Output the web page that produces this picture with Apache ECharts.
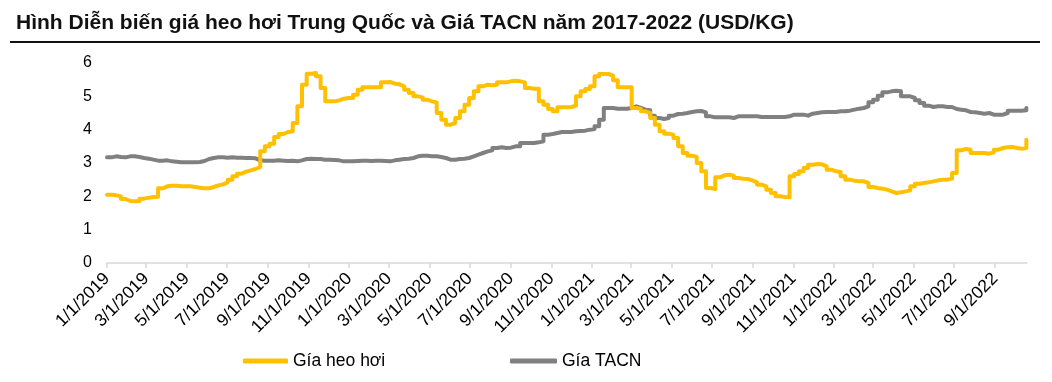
<!DOCTYPE html>
<html>
<head>
<meta charset="utf-8">
<script src="https://cdn.jsdelivr.net/npm/echarts@6/dist/echarts.min.js"></script>
<style>html,body{margin:0;padding:0;background:#fff}#c{width:1052px;height:382px}</style>
</head>
<body>
<div id="c"></div>
<script>
// Weekly observation dates
const dates = [
'2019-01-01','2019-01-08','2019-01-15','2019-01-22','2019-01-29','2019-02-05','2019-02-12','2019-02-19','2019-02-26',
'2019-03-05','2019-03-12','2019-03-19','2019-03-26','2019-04-02','2019-04-09','2019-04-16','2019-04-23','2019-04-30',
'2019-05-07','2019-05-14','2019-05-21','2019-05-28','2019-06-04','2019-06-11','2019-06-18','2019-06-25',
'2019-07-02','2019-07-09','2019-07-16','2019-07-23','2019-07-30','2019-08-06','2019-08-13','2019-08-20','2019-08-27',
'2019-09-03','2019-09-10','2019-09-17','2019-09-24','2019-10-01','2019-10-08','2019-10-15','2019-10-22','2019-10-29',
'2019-11-05','2019-11-12','2019-11-19','2019-11-26','2019-12-03','2019-12-10','2019-12-17','2019-12-24','2019-12-31',
'2020-01-07','2020-01-14','2020-01-21','2020-01-28','2020-02-04','2020-02-11','2020-02-18','2020-02-25',
'2020-03-03','2020-03-10','2020-03-17','2020-03-24','2020-03-31','2020-04-07','2020-04-14','2020-04-21','2020-04-28',
'2020-05-05','2020-05-12','2020-05-19','2020-05-26','2020-06-02','2020-06-09','2020-06-16','2020-06-23','2020-06-30',
'2020-07-07','2020-07-14','2020-07-21','2020-07-28','2020-08-04','2020-08-11','2020-08-18','2020-08-25',
'2020-09-01','2020-09-08','2020-09-15','2020-09-22','2020-09-29','2020-10-06','2020-10-13','2020-10-20','2020-10-27',
'2020-11-03','2020-11-10','2020-11-17','2020-11-24','2020-12-01','2020-12-08','2020-12-15','2020-12-22','2020-12-29',
'2021-01-05','2021-01-12','2021-01-19','2021-01-26','2021-02-02','2021-02-09','2021-02-16','2021-02-23',
'2021-03-02','2021-03-09','2021-03-16','2021-03-23','2021-03-30','2021-04-06','2021-04-13','2021-04-20','2021-04-27',
'2021-05-04','2021-05-11','2021-05-18','2021-05-25','2021-06-01','2021-06-08','2021-06-15','2021-06-22','2021-06-29',
'2021-07-06','2021-07-13','2021-07-20','2021-07-27','2021-08-03','2021-08-10','2021-08-17','2021-08-24','2021-08-31',
'2021-09-07','2021-09-14','2021-09-21','2021-09-28','2021-10-05','2021-10-12','2021-10-19','2021-10-26',
'2021-11-02','2021-11-09','2021-11-16','2021-11-23','2021-11-30','2021-12-07','2021-12-14','2021-12-21','2021-12-28',
'2022-01-04','2022-01-11','2022-01-18','2022-01-25','2022-02-01','2022-02-08','2022-02-15','2022-02-22',
'2022-03-01','2022-03-08','2022-03-15','2022-03-22','2022-03-29','2022-04-05','2022-04-12','2022-04-19','2022-04-26',
'2022-05-03','2022-05-10','2022-05-17','2022-05-24','2022-05-31','2022-06-07','2022-06-14','2022-06-21','2022-06-28',
'2022-07-05','2022-07-12','2022-07-19','2022-07-26','2022-08-02','2022-08-09','2022-08-16','2022-08-23','2022-08-30',
'2022-09-06','2022-09-13','2022-09-20','2022-09-27','2022-10-04','2022-10-11','2022-10-18'
];

// Gía heo hơi (USD/kg)
const pigPrice = [
2.05,2.03,2.00,1.92,1.86,1.85,1.86,1.93,1.96,
1.98,1.99,2.24,2.30,2.32,2.32,2.30,2.30,2.30,
2.28,2.26,2.24,2.24,2.28,2.33,2.36,2.42,
2.50,2.60,2.68,2.74,2.78,2.82,2.88,3.35,3.50,
3.58,3.78,3.87,3.93,3.95,4.20,4.70,5.35,5.68,
5.70,5.60,5.25,4.85,4.85,4.88,4.93,4.95,4.95,
5.05,5.20,5.27,5.27,5.27,5.27,5.42,5.43,
5.38,5.36,5.30,5.20,5.10,5.00,4.97,4.90,4.85,
4.82,4.50,4.30,4.15,4.20,4.35,4.55,4.75,4.95,
5.15,5.30,5.35,5.33,5.35,5.42,5.42,5.45,
5.47,5.45,5.42,5.25,5.23,5.23,4.85,4.75,4.62,
4.55,4.67,4.67,4.68,4.72,5.00,5.15,5.22,5.30,
5.60,5.67,5.67,5.62,5.48,5.27,5.27,5.27,
4.65,4.62,4.55,4.50,4.35,4.15,3.95,3.88,3.85,
3.75,3.50,3.30,3.22,3.18,3.00,2.75,2.25,2.22,
2.57,2.63,2.65,2.62,2.55,2.53,2.52,2.48,2.42,
2.35,2.30,2.20,2.10,2.00,1.98,1.97,2.60,
2.67,2.75,2.85,2.95,2.97,2.96,2.90,2.80,2.75,
2.73,2.60,2.50,2.47,2.45,2.45,2.40,2.28,
2.25,2.23,2.20,2.15,2.10,2.12,2.15,2.18,2.30,
2.38,2.40,2.42,2.45,2.48,2.50,2.50,2.53,2.70,
3.38,3.42,3.40,3.30,3.30,3.30,3.28,3.32,3.40,
3.45,3.47,3.48,3.45,3.43,3.45,3.70
];

// Gía TACN (USD/kg)
const feedPrice = [
3.17,3.20,3.18,3.17,3.20,3.20,3.18,3.15,3.13,
3.10,3.07,3.07,3.08,3.05,3.04,3.02,3.02,3.02,
3.02,3.03,3.06,3.12,3.15,3.17,3.17,3.16,
3.17,3.16,3.16,3.15,3.15,3.14,3.08,3.07,3.07,
3.07,3.08,3.07,3.06,3.07,3.05,3.08,3.12,3.13,
3.12,3.12,3.10,3.10,3.09,3.08,3.05,3.05,3.05,
3.06,3.07,3.07,3.06,3.07,3.07,3.06,3.05,
3.08,3.10,3.12,3.13,3.15,3.20,3.22,3.22,3.20,
3.20,3.18,3.15,3.10,3.10,3.12,3.13,3.15,3.20,
3.25,3.30,3.35,3.38,3.45,3.47,3.45,3.46,
3.50,3.50,3.60,3.60,3.60,3.62,3.65,3.85,3.87,
3.90,3.93,3.93,3.93,3.95,3.96,3.97,4.00,4.02,
4.10,4.30,4.65,4.65,4.63,4.63,4.63,4.65,
4.70,4.65,4.60,4.58,4.42,4.35,4.32,4.35,4.42,
4.47,4.48,4.50,4.53,4.55,4.56,4.52,4.40,4.37,
4.37,4.37,4.37,4.35,4.40,4.40,4.40,4.40,4.40,
4.38,4.38,4.38,4.38,4.38,4.38,4.40,4.45,
4.45,4.45,4.42,4.48,4.50,4.52,4.53,4.53,4.53,
4.55,4.55,4.57,4.60,4.63,4.65,4.70,4.82,
4.90,5.02,5.12,5.15,5.17,5.15,5.00,5.00,4.95,
4.88,4.80,4.72,4.68,4.70,4.70,4.68,4.68,4.62,
4.60,4.58,4.53,4.52,4.50,4.48,4.50,4.45,4.45,
4.45,4.50,4.57,4.57,4.57,4.58,4.65
];

// x-axis tick labels
const tickDates = [
'2019-01-01','2019-03-01','2019-05-01','2019-07-01','2019-09-01','2019-11-01',
'2020-01-01','2020-03-01','2020-05-01','2020-07-01','2020-09-01','2020-11-01',
'2021-01-01','2021-03-01','2021-05-01','2021-07-01','2021-09-01','2021-11-01',
'2022-01-01','2022-03-01','2022-05-01','2022-07-01','2022-09-01'
];
const yTicks = [0,1,2,3,4,5,6];

const toTime = s => { const p = s.split('-').map(Number); return new Date(p[0], p[1]-1, p[2]).getTime(); };
const fmt = v => { const d = new Date(v); return (d.getMonth()+1) + '/' + d.getDate() + '/' + d.getFullYear(); };
const ticks = tickDates.map(toTime);

const chart = echarts.init(document.getElementById('c'), null, {renderer: 'canvas'});
chart.setOption({
  animation: false,
  backgroundColor: '#fff',
  title: {
    text: 'Hình Diễn biến giá heo hơi Trung Quốc và Giá TACN năm 2017-2022 (USD/KG)',
    left: 11, top: 8,
    textStyle: {fontFamily: '"Liberation Sans Narrow", "Arial Narrow", "Liberation Sans", sans-serif', fontWeight: 'bold', fontSize: 21, color: '#111'}
  },
  graphic: [{type: 'rect', shape: {x: 10, y: 41, width: 1030, height: 2}, style: {fill: '#111'}}],
  grid: {left: 107, right: 25, top: 63, bottom: 119, outerBoundsMode: 'none'},
  xAxis: {
    type: 'value',
    min: toTime('2019-01-01'),
    max: toTime('2022-10-19'),
    axisLine: {lineStyle: {color: '#D9D9D9', width: 1.5}},
    axisTick: {show: true, length: 5, lineStyle: {color: '#D9D9D9', width: 1.5}, customValues: ticks},
    axisLabel: {customValues: ticks, rotate: 45, formatter: fmt, fontSize: 17.5, color: '#000',
      fontFamily: '"Liberation Sans", Arial, sans-serif', margin: 13, hideOverlap: false},
    splitLine: {show: false}
  },
  yAxis: {
    type: 'value', min: yTicks[0], max: yTicks[yTicks.length-1], interval: 1,
    axisLine: {show: false}, axisTick: {show: false}, splitLine: {show: false},
    axisLabel: {fontSize: 16, color: '#000', margin: 15, fontFamily: '"Liberation Sans", Arial, sans-serif'}
  },
  legend: [
    {data: ['Gía heo hơi'], left: 238, top: 347, icon: 'roundRect', itemWidth: 45, itemHeight: 5, itemGap: 0,
     textStyle: {fontSize: 17.5, color: '#000', fontFamily: '"Liberation Sans", Arial, sans-serif'}},
    {data: ['Gía TACN'], left: 505, top: 347, icon: 'roundRect', itemWidth: 47, itemHeight: 5, itemGap: 0,
     textStyle: {fontSize: 17.5, color: '#000', fontFamily: '"Liberation Sans", Arial, sans-serif'}}
  ],
  series: [
    {name: 'Gía TACN', type: 'line', step: 'end', showSymbol: false, symbol: 'none', color: '#808080',
     lineStyle: {width: 4, color: '#808080', join: 'round', cap: 'round'},
     data: dates.map((d, i) => [toTime(d), feedPrice[i]])},
    {name: 'Gía heo hơi', type: 'line', step: 'end', showSymbol: false, symbol: 'none', color: '#FFC000',
     lineStyle: {width: 4, color: '#FFC000', join: 'round', cap: 'round'},
     data: dates.map((d, i) => [toTime(d), pigPrice[i]])}
  ]
});
</script>
</body>
</html>
